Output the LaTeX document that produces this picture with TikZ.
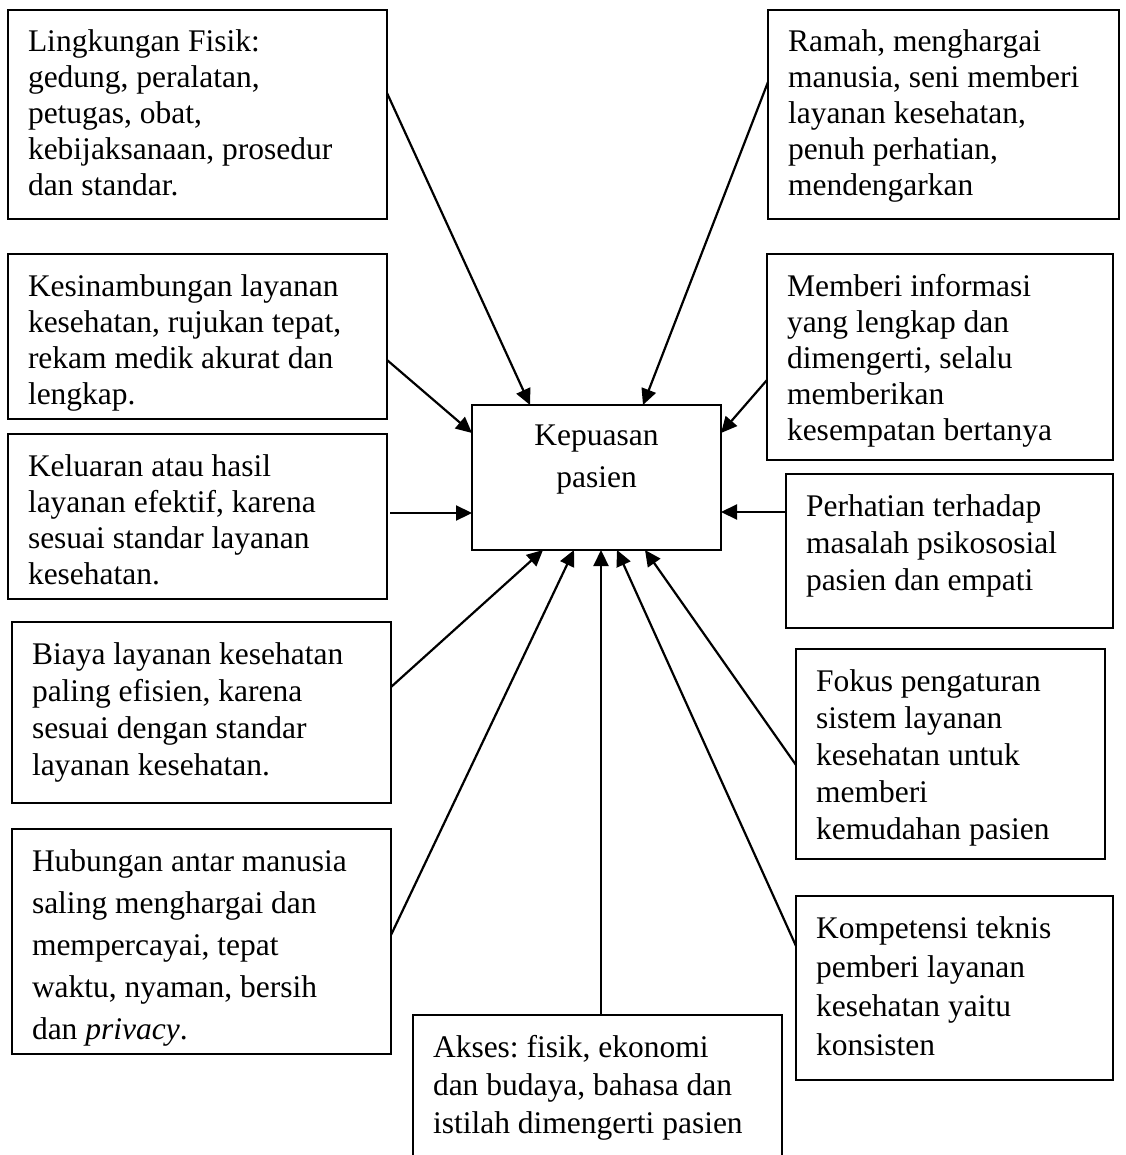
\documentclass[tikz,border=0pt]{standalone}
\usepackage{fontspec}
\setmainfont{Liberation Serif}
\usetikzlibrary{arrows.meta}
\tikzset{
  factor/.style={draw, line width=2pt, anchor=north west, inner xsep=20pt, inner ysep=0pt, outer sep=0pt},
  feed/.style={line width=2.2pt, -{Triangle[length=16pt,width=15pt]}}
}
% 文本框：宽、高、行距、内容
\newcommand{\boxtext}[4]{\parbox[t][#2pt][t]{#1pt}{\raggedright\frenchspacing\fontsize{31.5pt}{#3pt}\selectfont\rule{0pt}{42pt}#4}}

\begin{document}
\begin{tikzpicture}[x=1pt,y=-1pt]
  \path[use as bounding box] (0,0) rectangle (1125,1155);
  \clip (0,0) rectangle (1125,1155);

  % 中心框
  \node[factor, inner xsep=0pt] (pusat) at (472,405)
    {\parbox[t][145pt][t]{249pt}{\centering\fontsize{31.5pt}{42pt}\selectfont\rule{0pt}{40pt}Kepuasan\\pasien}};

  % 左列
  \node[factor] (fisik) at (8,10)
    {\boxtext{339}{209}{36}{Lingkungan Fisik:\\gedung, peralatan,\\petugas, obat,\\kebijaksanaan, prosedur\\dan standar.}};
  \node[factor] (sinambung) at (8,254)
    {\boxtext{339}{165}{36}{Kesinambungan layanan\\kesehatan, rujukan tepat,\\rekam medik akurat dan\\lengkap.}};
  \node[factor] (keluaran) at (8,434)
    {\boxtext{339}{165}{36}{Keluaran atau hasil\\layanan efektif, karena\\sesuai standar layanan\\kesehatan.}};
  \node[factor] (biaya) at (12,622)
    {\boxtext{339}{181}{37}{Biaya layanan kesehatan\\paling efisien, karena\\sesuai dengan standar\\layanan kesehatan.}};
  \node[factor] (hubungan) at (12,829)
    {\boxtext{339}{225}{42}{Hubungan antar manusia\\saling menghargai dan\\mempercayai, tepat\\waktu, nyaman, bersih\\dan \textit{privacy}.}};

  % 右列
  \node[factor] (ramah) at (768,10)
    {\boxtext{311}{209}{36}{Ramah, menghargai\\manusia, seni memberi\\layanan kesehatan,\\penuh perhatian,\\mendengarkan}};
  \node[factor] (info) at (767,254)
    {\boxtext{306}{206}{36}{Memberi informasi\\yang lengkap dan\\dimengerti, selalu\\memberikan\\kesempatan bertanya}};
  \node[factor] (psiko) at (786,474)
    {\boxtext{287}{154}{37}{Perhatian terhadap\\masalah psikososial\\pasien dan empati}};
  \node[factor] (fokus) at (796,649)
    {\boxtext{269}{210}{37}{Fokus pengaturan\\sistem layanan\\kesehatan untuk\\memberi\\kemudahan pasien}};
  \node[factor] (teknis) at (796,896)
    {\boxtext{277}{184}{39}{Kompetensi teknis\\pemberi layanan\\kesehatan yaitu\\konsisten}};

  % 下方
  \node[factor] (akses) at (413,1015)
    {\boxtext{329}{160}{38}{Akses: fisik, ekonomi\\dan budaya, bahasa dan\\istilah dimengerti pasien}};

  % 箭头
  \draw[feed] ([yshift=-83pt]fisik.north east) -- ([xshift=58pt]pusat.north west);
  \draw[feed] ([yshift=-72pt]ramah.north west) -- ([xshift=-78pt]pusat.north east);
  \draw[feed] ([yshift=-106pt]sinambung.north east) -- ([yshift=-28pt]pusat.north west);
  \draw[feed] ([yshift=-126pt]info.north west) -- ([yshift=-28pt]pusat.north east);
  \draw[feed] ([xshift=3pt,yshift=3.5pt]keluaran.east) -- ([yshift=-35.5pt]pusat.west);
  \draw[feed] ([yshift=-38pt]psiko.north west) -- ([yshift=-34.5pt]pusat.east);
  \draw[feed] ([yshift=-65pt]biaya.north east) -- ([xshift=71pt]pusat.south west);
  \draw[feed] ([yshift=-106pt]hubungan.north east) -- ([xshift=102pt]pusat.south west);
  \draw[feed] ([xshift=188pt]akses.north west) -- ([xshift=129pt]pusat.south west);
  \draw[feed] ([yshift=-50pt]teknis.north west) -- ([xshift=-104pt]pusat.south east);
  \draw[feed] ([yshift=-116pt]fokus.north west) -- ([xshift=-76pt]pusat.south east);
\end{tikzpicture}
\end{document}
